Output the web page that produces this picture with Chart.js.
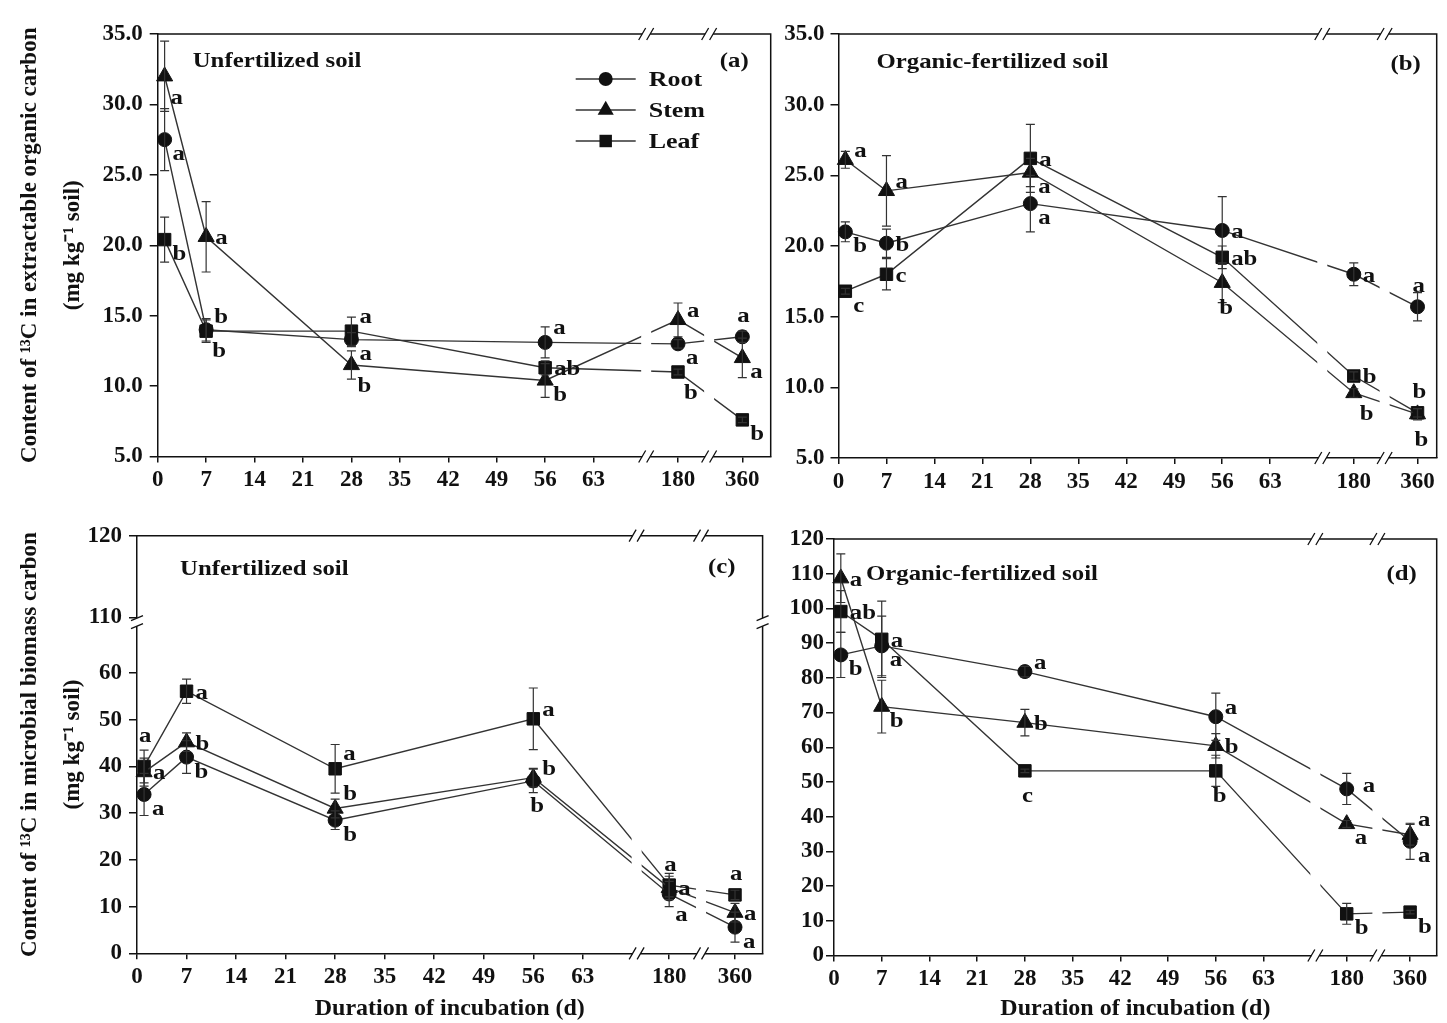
<!DOCTYPE html>
<html>
<head>
<meta charset="utf-8">
<script src="https://cdn.jsdelivr.net/npm/chart.js@4.4.0/dist/chart.umd.min.js"></script>
<style>
  html, body { margin: 0; padding: 0; background: #fff; }
  #wrap { position: relative; width: 1447px; height: 1023px; overflow: hidden; background: #fff; }
  canvas { position: absolute; }
</style>
</head>
<body>
<div id="wrap">
  <canvas id="chartA" width="790" height="500" style="left:0;top:0"></canvas>
  <canvas id="chartB" width="687" height="500" style="left:760px;top:0"></canvas>
  <canvas id="chartC" width="790" height="523" style="left:0;top:500px"></canvas>
  <canvas id="chartD" width="687" height="523" style="left:760px;top:500px"></canvas>
</div>
<script>
// ─── Data ───
const DAYS = [1, 7, 28, 56, 180, 360];
const X_TICK_DAYS = [0, 7, 14, 21, 28, 35, 42, 49, 56, 63, 180, 360];
const SERIES = ["Root", "Stem", "Leaf"];

const Y_TICKS_EOC = [5, 10, 15, 20, 25, 30, 35];
const Y_TICKS_C = [0, 10, 20, 30, 40, 50, 60, 110, 120];
const Y_TICKS_D = [0, 10, 20, 30, 40, 50, 60, 70, 80, 90, 100, 110, 120];

// (a) extractable organic carbon, unfertilized soil
const aRoot = [27.5, 14.0, 13.3, 13.1, 13.0, 13.5];
const aStem = [32.0, 20.6, 11.5, 10.4, 14.7, 12.0];
const aLeaf = [20.4, 13.9, 13.9, 11.3, 11.0, 7.6];
const aRootErr = [2.2, 0.8, 0.5, 1.1, 0.3, 0.4];
const aStemErr = [2.5, 2.5, 1.0, 1.2, 1.2, 1.4];
const aLeafErr = [1.6, 0.8, 1.0, 0.5, 0.2, 0.2];
const aRootSig = ["a", "b", "a", "a", "a", "a"];
const aStemSig = ["a", "a", "b", "b", "a", "a"];
const aLeafSig = ["b", "b", "a", "ab", "b", "b"];

// (b) extractable organic carbon, organic-fertilized soil
const bRoot = [21.0, 20.2, 23.0, 21.1, 18.0, 15.7];
const bStem = [26.1, 23.9, 25.2, 17.4, 9.6, 8.1];
const bLeaf = [16.8, 18.0, 26.2, 19.2, 10.8, 8.2];
const bRootErr = [0.7, 1.0, 2.0, 2.4, 0.8, 1.0];
const bStemErr = [0.6, 2.5, 1.0, 1.4, 0.3, 0.4];
const bLeafErr = [0.2, 1.1, 2.4, 0.8, 0.3, 0.3];
const bRootSig = ["b", "b", "a", "a", "a", "a"];
const bStemSig = ["a", "a", "a", "b", "b", "b"];
const bLeafSig = ["c", "c", "a", "ab", "b", "b"];

// (c) microbial biomass carbon, unfertilized soil
const cRoot = [34.0, 42.0, 28.5, 36.9, 12.7, 5.6];
const cStem = [38.8, 45.2, 31.0, 37.6, 14.0, 8.7];
const cLeaf = [40.0, 56.1, 39.5, 50.2, 14.6, 12.5];
const cRootErr = [4.5, 3.5, 2.0, 2.5, 2.7, 3.2];
const cStemErr = [3.0, 2.0, 2.0, 2.0, 2.5, 2.0];
const cLeafErr = [3.5, 2.6, 5.2, 6.6, 2.5, 1.0];
const cRootSig = ["a", "b", "b", "b", "a", "a"];
const cStemSig = ["a", "b", "b", "b", "a", "a"];
const cLeafSig = ["a", "a", "a", "a", "a", "a"];

// (d) microbial biomass carbon, organic-fertilized soil
const dRoot = [86.6, 89.2, 81.8, 68.8, 48.0, 32.9];
const dStem = [108.7, 71.7, 67.1, 60.4, 37.9, 34.8];
const dLeaf = [99.1, 91.1, 53.2, 53.2, 12.0, 12.5];
const dRootErr = [6.5, 8.6, 1.5, 6.8, 4.5, 5.2];
const dStemErr = [7.0, 7.6, 3.8, 3.5, 1.0, 3.0];
const dLeafErr = [6.0, 11.0, 0.5, 4.5, 3.0, 0.5];
const dRootSig = ["b", "a", "a", "a", "a", "a"];
const dStemSig = ["a", "b", "b", "b", "a", "a"];
const dLeafSig = ["ab", "a", "c", "b", "b", "b"];

// where each significance letter sits next to its point
const aRootPos = ["br", "bb", "br", "tr", "br", "t"];
const aStemPos = ["bb", "r", "bb", "br", "ur", "br"];
const aLeafPos = ["br", "tr", "tr", "r", "bb", "br"];
const bRootPos = ["br", "r", "br", "r", "r", "t"];
const bStemPos = ["ur", "ur", "br", "b", "bb", "b"];
const bLeafPos = ["br", "r", "r", "r", "r", "t"];
const cRootPos = ["br", "br", "br", "b", "bb", "br"];
const cStemPos = ["r", "r", "tr", "ur", "r", "r"];
const cLeafPos = ["tt", "r", "tr", "ur", "t", "t"];
const dRootPos = ["br", "br", "ur", "ur", "rr", "br"];
const dStemPos = ["r", "br", "r", "r", "br", "tr"];
const dLeafPos = ["r", "r", "b", "b", "br", "br"];

// ─── Styles ───
const FONT = '"Liberation Serif", "Times New Roman", serif';
const INK = "#111";
const LINE = "#333";
const HX = 1.18; // the source text is a little stretched sideways
const POINT_STYLES = ["circle", "triangle", "rect"];
const POINT_RADII = [7, 9.3, 8.8];
const LETTER_OFFSET = {
  r: [9, 2], rr: [16, -2], ur: [9, -8], tr: [8, -14], br: [8, 15],
  bb: [6, 22], b: [-3, 26], t: [-5, -20], tt: [-5, -30]
};

// broken time axis: 0–63 d linear, then 180 and 360 after breaks
const X_FAR = { 180: 75.2, 360: 84.5 };
const X_BREAKS = [70.6, 79.7];
function xPos(d) { return d <= 63 ? d : X_FAR[d]; }

// broken value axis in (c): 0–60 linear, then 110–120
function yMapC(v) { return v <= 60 ? v : 71.9 + (v - 110) * 1.75; }
const Y_BREAK_C = 70.9;

function stretchText(ctx, txt, x, y, align) {
  ctx.save();
  ctx.translate(x, y);
  ctx.scale(HX, 1);
  ctx.textAlign = align || "left";
  ctx.fillText(txt, 0, 0);
  ctx.restore();
}

function marker(ctx, style, r, x, y) {
  ctx.beginPath();
  if (style === "circle") ctx.arc(x, y, r, 0, Math.PI * 2);
  else if (style === "rect") { const s = r * Math.SQRT1_2; ctx.rect(x - s, y - s, 2 * s, 2 * s); }
  else {
    for (let i = 0; i < 3; i++) {
      const a = i * 2 * Math.PI / 3;
      const px = x + Math.sin(a) * r, py = y - Math.cos(a) * r;
      i ? ctx.lineTo(px, py) : ctx.moveTo(px, py);
    }
    ctx.closePath();
  }
  ctx.fill();
}

function slashX(ctx, px, py) {
  ctx.fillStyle = "#fff";
  ctx.fillRect(px - 4, py - 2, 8, 4);
  ctx.beginPath();
  [-4, 4].forEach(o => { ctx.moveTo(px + o - 3.5, py + 6); ctx.lineTo(px + o + 3.5, py - 6); });
  ctx.stroke();
}

function slashY(ctx, px, py) {
  ctx.fillStyle = "#fff";
  ctx.fillRect(px - 2, py - 4, 4, 8);
  ctx.beginPath();
  [-4, 4].forEach(o => { ctx.moveTo(px - 6, py + o + 2.5); ctx.lineTo(px + 6, py + o - 2.5); });
  ctx.stroke();
}

// ── Error bars, letters, frame, axis breaks, labels ──
const extras = {
  id: "extras",
  afterDatasetsDraw(chart, args, o) {
    const { ctx, chartArea: ca, scales: { x, y } } = chart;
    ctx.save();

    // cut the lines where the time axis is broken
    ctx.fillStyle = "#fff";
    X_BREAKS.forEach(b => {
      const px = x.getPixelForValue(b);
      ctx.fillRect(px - 5, ca.top + 3, 10, ca.bottom - ca.top - 6);
    });

    // error bars
    ctx.strokeStyle = "#333";
    ctx.lineWidth = 1.2;
    chart.data.datasets.forEach(ds => {
      ds.values.forEach((v, i) => {
        const px = x.getPixelForValue(xPos(DAYS[i]));
        const t = y.getPixelForValue(o.yMap(v + ds.errors[i]));
        const b = y.getPixelForValue(o.yMap(v - ds.errors[i]));
        ctx.beginPath();
        ctx.moveTo(px, t); ctx.lineTo(px, b);
        ctx.moveTo(px - 4.5, t); ctx.lineTo(px + 4.5, t);
        ctx.moveTo(px - 4.5, b); ctx.lineTo(px + 4.5, b);
        ctx.stroke();
      });
    });

    // significance letters
    ctx.fillStyle = INK;
    ctx.font = "bold 21px " + FONT;
    ctx.textBaseline = "middle";
    chart.data.datasets.forEach(ds => {
      ds.values.forEach((v, i) => {
        const off = LETTER_OFFSET[ds.sigPos[i]];
        const px = x.getPixelForValue(xPos(DAYS[i]));
        const py = y.getPixelForValue(o.yMap(v));
        stretchText(ctx, ds.sig[i], px + off[0], py + off[1]);
      });
    });

    // frame (top and right)
    ctx.strokeStyle = INK;
    ctx.lineWidth = 1.5;
    ctx.beginPath();
    ctx.moveTo(ca.left, ca.top); ctx.lineTo(ca.right, ca.top); ctx.lineTo(ca.right, ca.bottom);
    ctx.stroke();

    // break marks
    ctx.lineWidth = 1.3;
    X_BREAKS.forEach(b => {
      const px = x.getPixelForValue(b);
      slashX(ctx, px, ca.top);
      slashX(ctx, px, ca.bottom);
    });
    if (o.yBreak !== undefined) {
      const py = y.getPixelForValue(o.yBreak);
      slashY(ctx, ca.left, py);
      slashY(ctx, ca.right, py);
    }

    // panel labels
    ctx.fillStyle = INK;
    ctx.font = "bold 21px " + FONT;
    stretchText(ctx, o.sub, ca.left + o.subAt[0], ca.top + o.subAt[1]);
    stretchText(ctx, o.tag, ca.right - o.tagAt[0], ca.top + o.tagAt[1], "right");

    // legend
    if (o.legend) {
      ctx.font = "bold 22px " + FONT;
      SERIES.forEach((name, k) => {
        const ly = ca.top + 45 + k * 31;
        const lx = ca.right - 195;
        ctx.strokeStyle = LINE;
        ctx.lineWidth = 1.3;
        ctx.beginPath(); ctx.moveTo(lx, ly); ctx.lineTo(lx + 60, ly); ctx.stroke();
        ctx.fillStyle = INK;
        marker(ctx, POINT_STYLES[k], POINT_RADII[k], lx + 30, ly);
        stretchText(ctx, name, lx + 73, ly + 1);
      });
    }
    ctx.restore();
  }
};

// ── Panel builder ──
function buildPanel(p) {
  const canvas = document.getElementById(p.id);
  const W = canvas.width, H = canvas.height;
  const yMap = p.yMap || (v => v);
  const tickFont = { family: FONT, size: 23, weight: "bold" };

  const datasets = SERIES.map((name, k) => ({
    label: name,
    data: DAYS.map((d, i) => ({ x: xPos(d), y: yMap(p.values[k][i]) })),
    values: p.values[k],
    errors: p.errors[k],
    sig: p.sig[k],
    sigPos: p.sigPos[k],
    borderColor: LINE,
    borderWidth: 1.4,
    pointStyle: POINT_STYLES[k],
    pointRadius: POINT_RADII[k],
    pointBackgroundColor: INK,
    pointBorderColor: INK,
    pointBorderWidth: 1,
    tension: 0,
    clip: false
  }));

  return new Chart(canvas, {
    type: "line",
    data: { datasets },
    options: {
      responsive: false,
      animation: false,
      events: [],
      layout: { padding: { left: 0, top: p.area.top, right: W - p.area.right, bottom: 0 } },
      plugins: {
        legend: { display: false },
        tooltip: { enabled: false },
        extras: {
          yMap, yBreak: p.yBreak, legend: !!p.legend,
          sub: p.sub, subAt: p.subAt, tag: p.tag, tagAt: p.tagAt
        }
      },
      scales: {
        x: {
          type: "linear",
          min: 0,
          max: p.xMax,
          afterBuildTicks: s => { s.ticks = X_TICK_DAYS.map(d => ({ value: xPos(d) })); },
          afterFit: s => { s.height = H - p.area.bottom; },
          ticks: {
            font: tickFont, color: INK, padding: 4, maxRotation: 0, autoSkip: false,
            callback: v => {
              const d = X_TICK_DAYS.find(dd => xPos(dd) === v);
              return d === undefined ? "" : String(d);
            }
          },
          grid: { display: true, drawOnChartArea: false, drawTicks: true, tickLength: 6, color: INK, lineWidth: 1.5 },
          border: { display: true, color: INK, width: 1.5 },
          title: p.xTitle
            ? { display: true, text: p.xTitle, color: INK,
                font: { family: FONT, size: 24, weight: "bold" }, padding: { top: 0, bottom: 0 } }
            : { display: false }
        },
        y: {
          type: "linear",
          min: yMap(p.yTicks[0]),
          max: yMap(p.yTicks[p.yTicks.length - 1]),
          afterBuildTicks: s => { s.ticks = p.yTicks.map(v => ({ value: yMap(v) })); },
          afterFit: s => { s.width = p.area.left; },
          ticks: {
            font: tickFont, color: INK, padding: p.yPad,
            callback: v => {
              const t = p.yTicks.find(tt => yMap(tt) === v);
              return t === undefined ? "" : (p.yDec ? t.toFixed(1) : String(t));
            }
          },
          grid: { display: true, drawOnChartArea: false, drawTicks: true, tickLength: 8, color: INK, lineWidth: 1.5 },
          border: { display: true, color: INK, width: 1.5 },
          title: p.yTitle
            ? { display: true, text: p.yTitle, color: INK,
                font: { family: FONT, size: 23, weight: "bold", lineHeight: 1.87 },
                padding: { top: 8.5, bottom: 0 } }
            : { display: false }
        }
      }
    },
    plugins: [extras]
  });
}

// ── Init ──
buildPanel({
  id: "chartA",
  area: { left: 157.7, top: 34, right: 770.7, bottom: 456.5 },
  xMax: 88.6, yTicks: Y_TICKS_EOC, yDec: true, yPad: 7,
  values: [aRoot, aStem, aLeaf], errors: [aRootErr, aStemErr, aLeafErr],
  sig: [aRootSig, aStemSig, aLeafSig], sigPos: [aRootPos, aStemPos, aLeafPos],
  yTitle: ["Content of \u00b9\u00b3C in extractable organic carbon", "(mg kg\u207b\u00b9 soil)"],
  sub: "Unfertilized soil", subAt: [35, 28], tag: "(a)", tagAt: [22, 28], legend: true
});

buildPanel({
  id: "chartB",
  area: { left: 78.5, top: 34, right: 686, bottom: 458 },
  xMax: 87.3, yTicks: Y_TICKS_EOC, yDec: true, yPad: 6,
  values: [bRoot, bStem, bLeaf], errors: [bRootErr, bStemErr, bLeafErr],
  sig: [bRootSig, bStemSig, bLeafSig], sigPos: [bRootPos, bStemPos, bLeafPos],
  sub: "Organic-fertilized soil", subAt: [38, 29], tag: "(b)", tagAt: [16, 31]
});

buildPanel({
  id: "chartC",
  area: { left: 137, top: 35.7, right: 762.6, bottom: 453.3 },
  xMax: 88.4, yTicks: Y_TICKS_C, yMap: yMapC, yBreak: Y_BREAK_C, yPad: 7,
  values: [cRoot, cStem, cLeaf], errors: [cRootErr, cStemErr, cLeafErr],
  sig: [cRootSig, cStemSig, cLeafSig], sigPos: [cRootPos, cStemPos, cLeafPos],
  yTitle: ["Content of \u00b9\u00b3C in microbial biomass carbon", "(mg kg\u207b\u00b9 soil)"],
  xTitle: "Duration of incubation (d)",
  sub: "Unfertilized soil", subAt: [43, 34], tag: "(c)", tagAt: [27, 32]
});

buildPanel({
  id: "chartD",
  area: { left: 74, top: 39, right: 686, bottom: 455.5 },
  xMax: 88.4, yTicks: Y_TICKS_D, yPad: 2,
  values: [dRoot, dStem, dLeaf], errors: [dRootErr, dStemErr, dLeafErr],
  sig: [dRootSig, dStemSig, dLeafSig], sigPos: [dRootPos, dStemPos, dLeafPos],
  xTitle: "Duration of incubation (d)",
  sub: "Organic-fertilized soil", subAt: [32, 36], tag: "(d)", tagAt: [20, 36]
});
</script>
</body>
</html>
